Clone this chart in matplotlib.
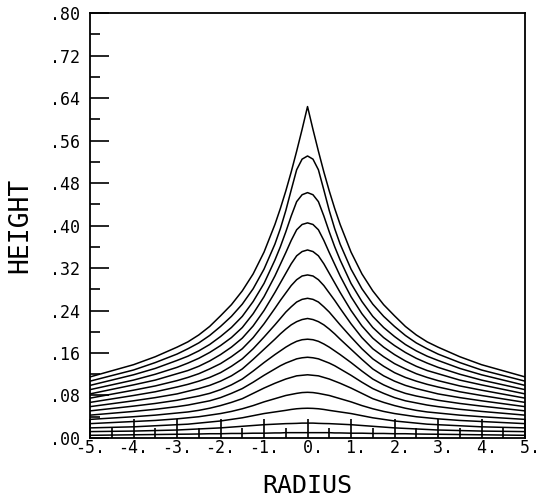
import matplotlib
matplotlib.use("Agg")
import matplotlib.pyplot as plt
import numpy as np
from matplotlib.ticker import MultipleLocator

# radius samples (curves are symmetric about r = 0)
radius = [0.0, 0.125, 0.25, 0.375, 0.5, 0.625, 0.75, 1.0, 1.25, 1.5, 1.75,
          2.0, 2.25, 2.5, 2.75, 3.0, 3.5, 4.0, 5.0]

# height of each profile at the radius samples, top profile first
heights = [
    [0.624, 0.581, 0.540, 0.501, 0.465, 0.432, 0.402, 0.350, 0.309, 0.277, 0.251, 0.230, 0.210, 0.194, 0.181, 0.171, 0.153, 0.138, 0.115],
    [0.531, 0.525, 0.505, 0.467, 0.428, 0.394, 0.365, 0.318, 0.281, 0.252, 0.229, 0.210, 0.193, 0.179, 0.168, 0.158, 0.142, 0.128, 0.107],
    [0.462, 0.458, 0.445, 0.418, 0.388, 0.360, 0.335, 0.291, 0.257, 0.229, 0.208, 0.191, 0.176, 0.164, 0.154, 0.146, 0.131, 0.119, 0.099],
    [0.405, 0.402, 0.392, 0.372, 0.349, 0.327, 0.305, 0.266, 0.234, 0.208, 0.189, 0.174, 0.161, 0.150, 0.141, 0.133, 0.120, 0.109, 0.091],
    [0.354, 0.351, 0.343, 0.328, 0.310, 0.292, 0.274, 0.240, 0.211, 0.188, 0.171, 0.157, 0.145, 0.135, 0.127, 0.121, 0.109, 0.100, 0.083],
    [0.307, 0.305, 0.298, 0.287, 0.273, 0.259, 0.244, 0.215, 0.189, 0.168, 0.153, 0.140, 0.130, 0.121, 0.114, 0.108, 0.098, 0.090, 0.075],
    [0.263, 0.261, 0.256, 0.247, 0.237, 0.225, 0.213, 0.190, 0.168, 0.149, 0.135, 0.123, 0.114, 0.107, 0.101, 0.096, 0.087, 0.080, 0.067],
    [0.225, 0.223, 0.219, 0.213, 0.205, 0.196, 0.186, 0.167, 0.148, 0.130, 0.117, 0.107, 0.099, 0.093, 0.088, 0.083, 0.076, 0.070, 0.059],
    [0.186, 0.185, 0.182, 0.177, 0.171, 0.164, 0.157, 0.142, 0.126, 0.111, 0.100, 0.091, 0.084, 0.079, 0.075, 0.071, 0.065, 0.060, 0.051],
    [0.152, 0.151, 0.149, 0.145, 0.141, 0.136, 0.130, 0.118, 0.105, 0.093, 0.084, 0.076, 0.070, 0.066, 0.062, 0.059, 0.054, 0.050, 0.043],
    [0.119, 0.118, 0.117, 0.114, 0.111, 0.107, 0.103, 0.094, 0.084, 0.074, 0.067, 0.061, 0.056, 0.052, 0.049, 0.047, 0.043, 0.040, 0.035],
    [0.086, 0.0855, 0.084, 0.082, 0.080, 0.077, 0.074, 0.068, 0.061, 0.055, 0.050, 0.046, 0.043, 0.040, 0.038, 0.036, 0.033, 0.031, 0.027],
    [0.056, 0.0557, 0.055, 0.0537, 0.052, 0.0505, 0.049, 0.046, 0.042, 0.038, 0.035, 0.032, 0.030, 0.028, 0.026, 0.025, 0.023, 0.021, 0.019],
    [0.028, 0.028, 0.0275, 0.0272, 0.027, 0.0265, 0.026, 0.025, 0.0235, 0.022, 0.0205, 0.019, 0.018, 0.017, 0.016, 0.015, 0.014, 0.013, 0.012],
    [0.010, 0.010, 0.010, 0.010, 0.010, 0.0095, 0.0095, 0.009, 0.009, 0.0085, 0.0085, 0.008, 0.008, 0.0075, 0.0072, 0.007, 0.0065, 0.006, 0.005],
]

xticks = [-5, -4, -3, -2, -1, 0, 1, 2, 3, 4, 5]
xlabels = ['-5.', '-4.', '-3.', '-2.', '-1.', ' 0.', ' 1.', ' 2.', ' 3.', ' 4.', ' 5.']
yticks = [0.0, 0.08, 0.16, 0.24, 0.32, 0.40, 0.48, 0.56, 0.64, 0.72, 0.80]
ylabels = ['.00', '.08', '.16', '.24', '.32', '.40', '.48', '.56', '.64', '.72', '.80']

plt.rcParams['font.family'] = ['DejaVu Sans Mono']

fig = plt.figure(figsize=(5.36, 5.04), dpi=100)
ax = fig.add_axes([0.168, 0.131, 0.8115, 0.843])

r = np.array(radius)
x_full = np.concatenate([-r[::-1], r[1:]])
for h in heights:
    h = np.array(h)
    ax.plot(x_full, np.concatenate([h[::-1], h[1:]]), color='black', lw=1.1)

ax.set_xlim(-5, 5)
ax.set_ylim(0, 0.80)
ax.set_xticks(xticks)
ax.set_xticklabels(xlabels, fontsize=12)
ax.set_yticks(yticks)
ax.set_yticklabels(ylabels, fontsize=12)
ax.xaxis.set_minor_locator(MultipleLocator(0.5))
ax.yaxis.set_minor_locator(MultipleLocator(0.04))
ax.tick_params(which='both', direction='in', width=1.2, color='black')
ax.tick_params(which='major', length=14)
ax.tick_params(which='minor', length=7)
ax.tick_params(axis='x', which='major', pad=1)
ax.tick_params(axis='y', which='major', pad=7)
for s in ax.spines.values():
    s.set_linewidth(1.3)

ax.set_xlabel('RADIUS', fontsize=18, labelpad=12)
ax.set_ylabel('HEIGHT', fontsize=19, labelpad=12)

fig.savefig('out.png', dpi=100)
